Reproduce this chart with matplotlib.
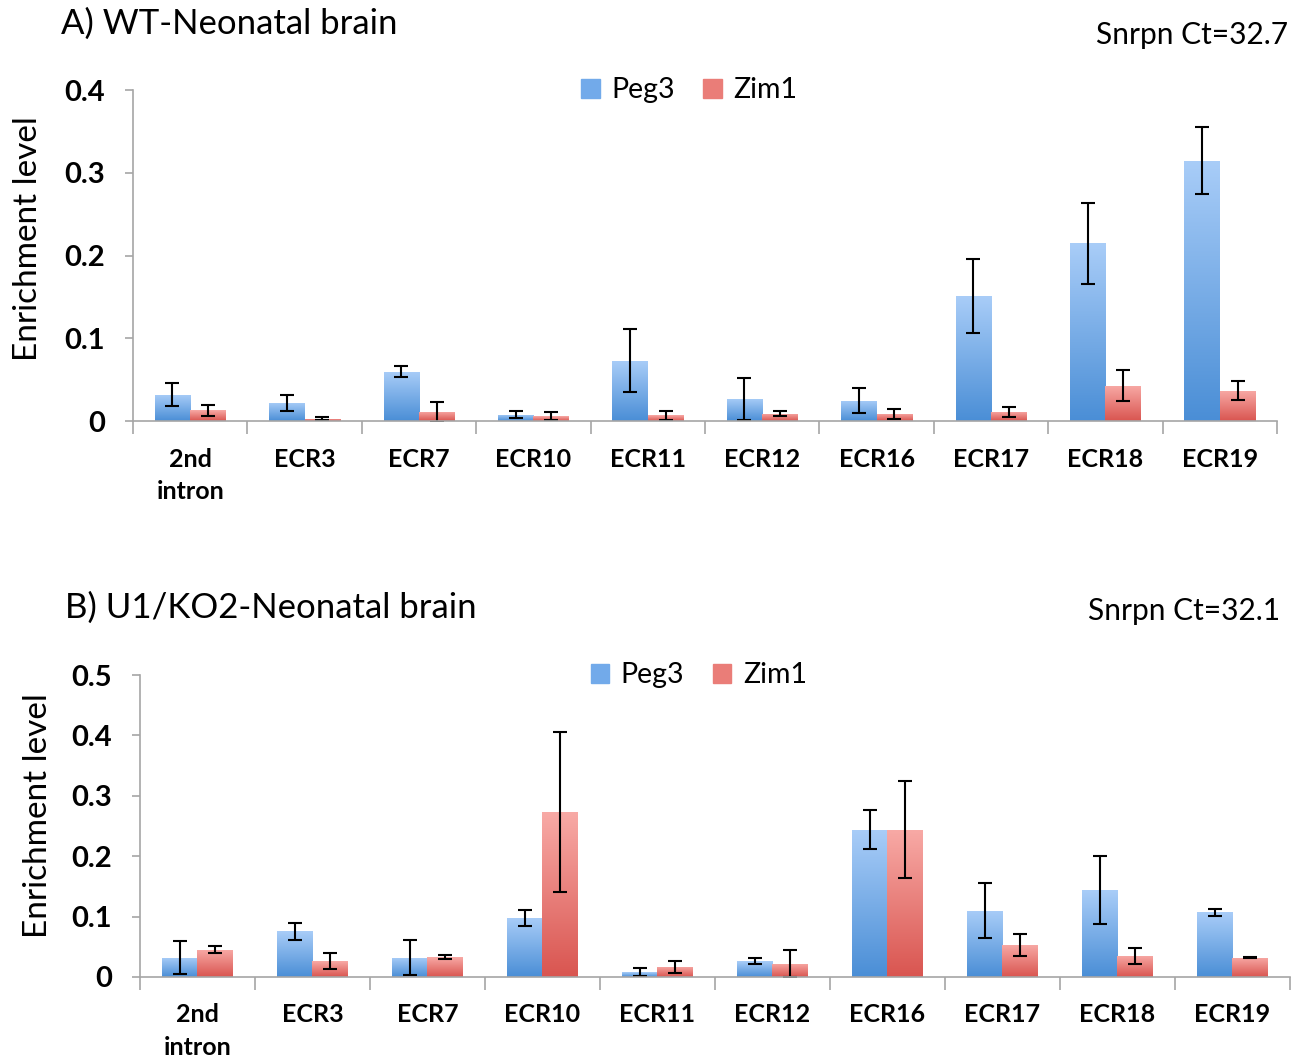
import numpy as np
import matplotlib
matplotlib.use("Agg")
import matplotlib.pyplot as plt
from matplotlib.colors import LinearSegmentedColormap
from matplotlib.patches import Patch

plt.rcParams['font.family'] = ['Lato', 'DejaVu Sans']

categories = ["2nd\nintron", "ECR3", "ECR7", "ECR10", "ECR11", "ECR12", "ECR16", "ECR17", "ECR18", "ECR19"]
series_names = ["Peg3", "Zim1"]

# Panel A: WT-Neonatal brain
a_peg3 = [0.032, 0.022, 0.060, 0.008, 0.073, 0.027, 0.025, 0.151, 0.215, 0.315]
a_peg3_err = [0.014, 0.010, 0.007, 0.004, 0.038, 0.025, 0.015, 0.045, 0.049, 0.041]
a_zim1 = [0.013, 0.003, 0.011, 0.006, 0.007, 0.009, 0.009, 0.011, 0.043, 0.037]
a_zim1_err = [0.007, 0.002, 0.012, 0.005, 0.005, 0.003, 0.006, 0.006, 0.019, 0.011]

# Panel B: U1/KO2-Neonatal brain
b_peg3 = [0.032, 0.076, 0.032, 0.098, 0.008, 0.026, 0.244, 0.110, 0.144, 0.107]
b_peg3_err = [0.027, 0.014, 0.029, 0.013, 0.007, 0.005, 0.032, 0.045, 0.056, 0.006]
b_zim1 = [0.045, 0.026, 0.033, 0.273, 0.017, 0.022, 0.244, 0.053, 0.035, 0.032]
b_zim1_err = [0.006, 0.013, 0.004, 0.132, 0.010, 0.022, 0.080, 0.018, 0.013, 0.001]

a_yticks = [0, 0.1, 0.2, 0.3, 0.4]
a_yticklabels = ["0", "0.1", "0.2", "0.3", "0.4"]
b_yticks = [0, 0.1, 0.2, 0.3, 0.4, 0.5]
b_yticklabels = ["0", "0.1", "0.2", "0.3", "0.4", "0.5"]

blue_cmap = LinearSegmentedColormap.from_list("b", ["#4a8ed6", "#a9cdf8"])
red_cmap = LinearSegmentedColormap.from_list("r", ["#d95550", "#f8aaa6"])
blue_mid = "#72aaea"
red_mid = "#ea7d78"
grey = "#a6a6a6"

fig = plt.figure(figsize=(13.01, 10.61), dpi=100)


def gradient_bars(ax, bars, cmap):
    grad = np.linspace(0, 1, 256).reshape(-1, 1)
    for b in bars:
        x0, y0 = b.get_x(), b.get_y()
        w, h = b.get_width(), b.get_height()
        if h <= 0:
            continue
        im = ax.imshow(grad, extent=[x0, x0 + w, y0, y0 + h], origin='lower',
                       aspect='auto', cmap=cmap, zorder=2)
        im.set_clip_path(b)
        b.set_facecolor('none')


def panel(rect, peg, peg_err, zim, zim_err, yticks, yticklabels, ymax, title, ct,
          title_xy, ct_xy, ylab_xy):
    ax = fig.add_axes(rect)
    x = np.arange(len(categories))
    w = 0.31
    eb = dict(ecolor='black', elinewidth=1.5, capsize=5, capthick=1.5)
    b1 = ax.bar(x - w / 2, peg, w, yerr=peg_err, color=blue_mid, zorder=2,
                error_kw=eb, label=series_names[0])
    b2 = ax.bar(x + w / 2, zim, w, yerr=zim_err, color=red_mid, zorder=2,
                error_kw=eb, label=series_names[1])
    gradient_bars(ax, b1, blue_cmap)
    gradient_bars(ax, b2, red_cmap)
    ax.set_xlim(-0.5, len(categories) - 0.5)
    ax.set_ylim(0, ymax)
    ax.set_yticks(yticks)
    ax.set_yticklabels(yticklabels, fontsize=21, fontweight='bold')
    ax.set_xticks(x)
    ax.set_xticklabels(categories, fontsize=18, fontweight='bold', linespacing=1.5)
    ax.set_xticks(np.arange(len(categories) + 1) - 0.5, minor=True)
    ax.tick_params(axis='x', which='major', length=0, pad=19)
    ax.tick_params(axis='x', which='minor', length=9, color=grey, width=1.2, direction='out')
    ax.tick_params(axis='y', length=6, color=grey, width=1.2, direction='out', pad=14)
    for s in ['top', 'right']:
        ax.spines[s].set_visible(False)
    for s in ['left', 'bottom']:
        ax.spines[s].set_color(grey)
        ax.spines[s].set_linewidth(1.2)
    ax.set_ylabel("Enrichment level", fontsize=24)
    ax.yaxis.set_label_coords(ylab_xy[0], ylab_xy[1])
    handles = [Patch(color=blue_mid), Patch(color=red_mid)]
    ax.legend(handles, series_names, loc='center', bbox_to_anchor=(0.486, 1.0),
              ncol=2, frameon=False, fontsize=20.5, handlelength=0.65, handleheight=0.65,
              handletextpad=0.4, columnspacing=1.0)
    fig.text(title_xy[0], title_xy[1], title, fontsize=25, ha='left', va='center')
    fig.text(ct_xy[0], ct_xy[1], ct, fontsize=21.5, ha='right', va='center')
    return ax


panel([0.1022, 0.603, 0.8794, 0.312], a_peg3, a_peg3_err, a_zim1, a_zim1_err,
      a_yticks, a_yticklabels, 0.4, "A) WT-Neonatal brain", "Snrpn Ct=32.7",
      (0.047, 0.978), (0.990, 0.967), (-0.079, 0.553))
panel([0.1076, 0.0792, 0.8839, 0.2846], b_peg3, b_peg3_err, b_zim1, b_zim1_err,
      b_yticks, b_yticklabels, 0.5, "B) U1/KO2-Neonatal brain", "Snrpn Ct=32.1",
      (0.050, 0.427), (0.984, 0.424), (-0.076, 0.536))

fig.savefig("out.png", dpi=100)
